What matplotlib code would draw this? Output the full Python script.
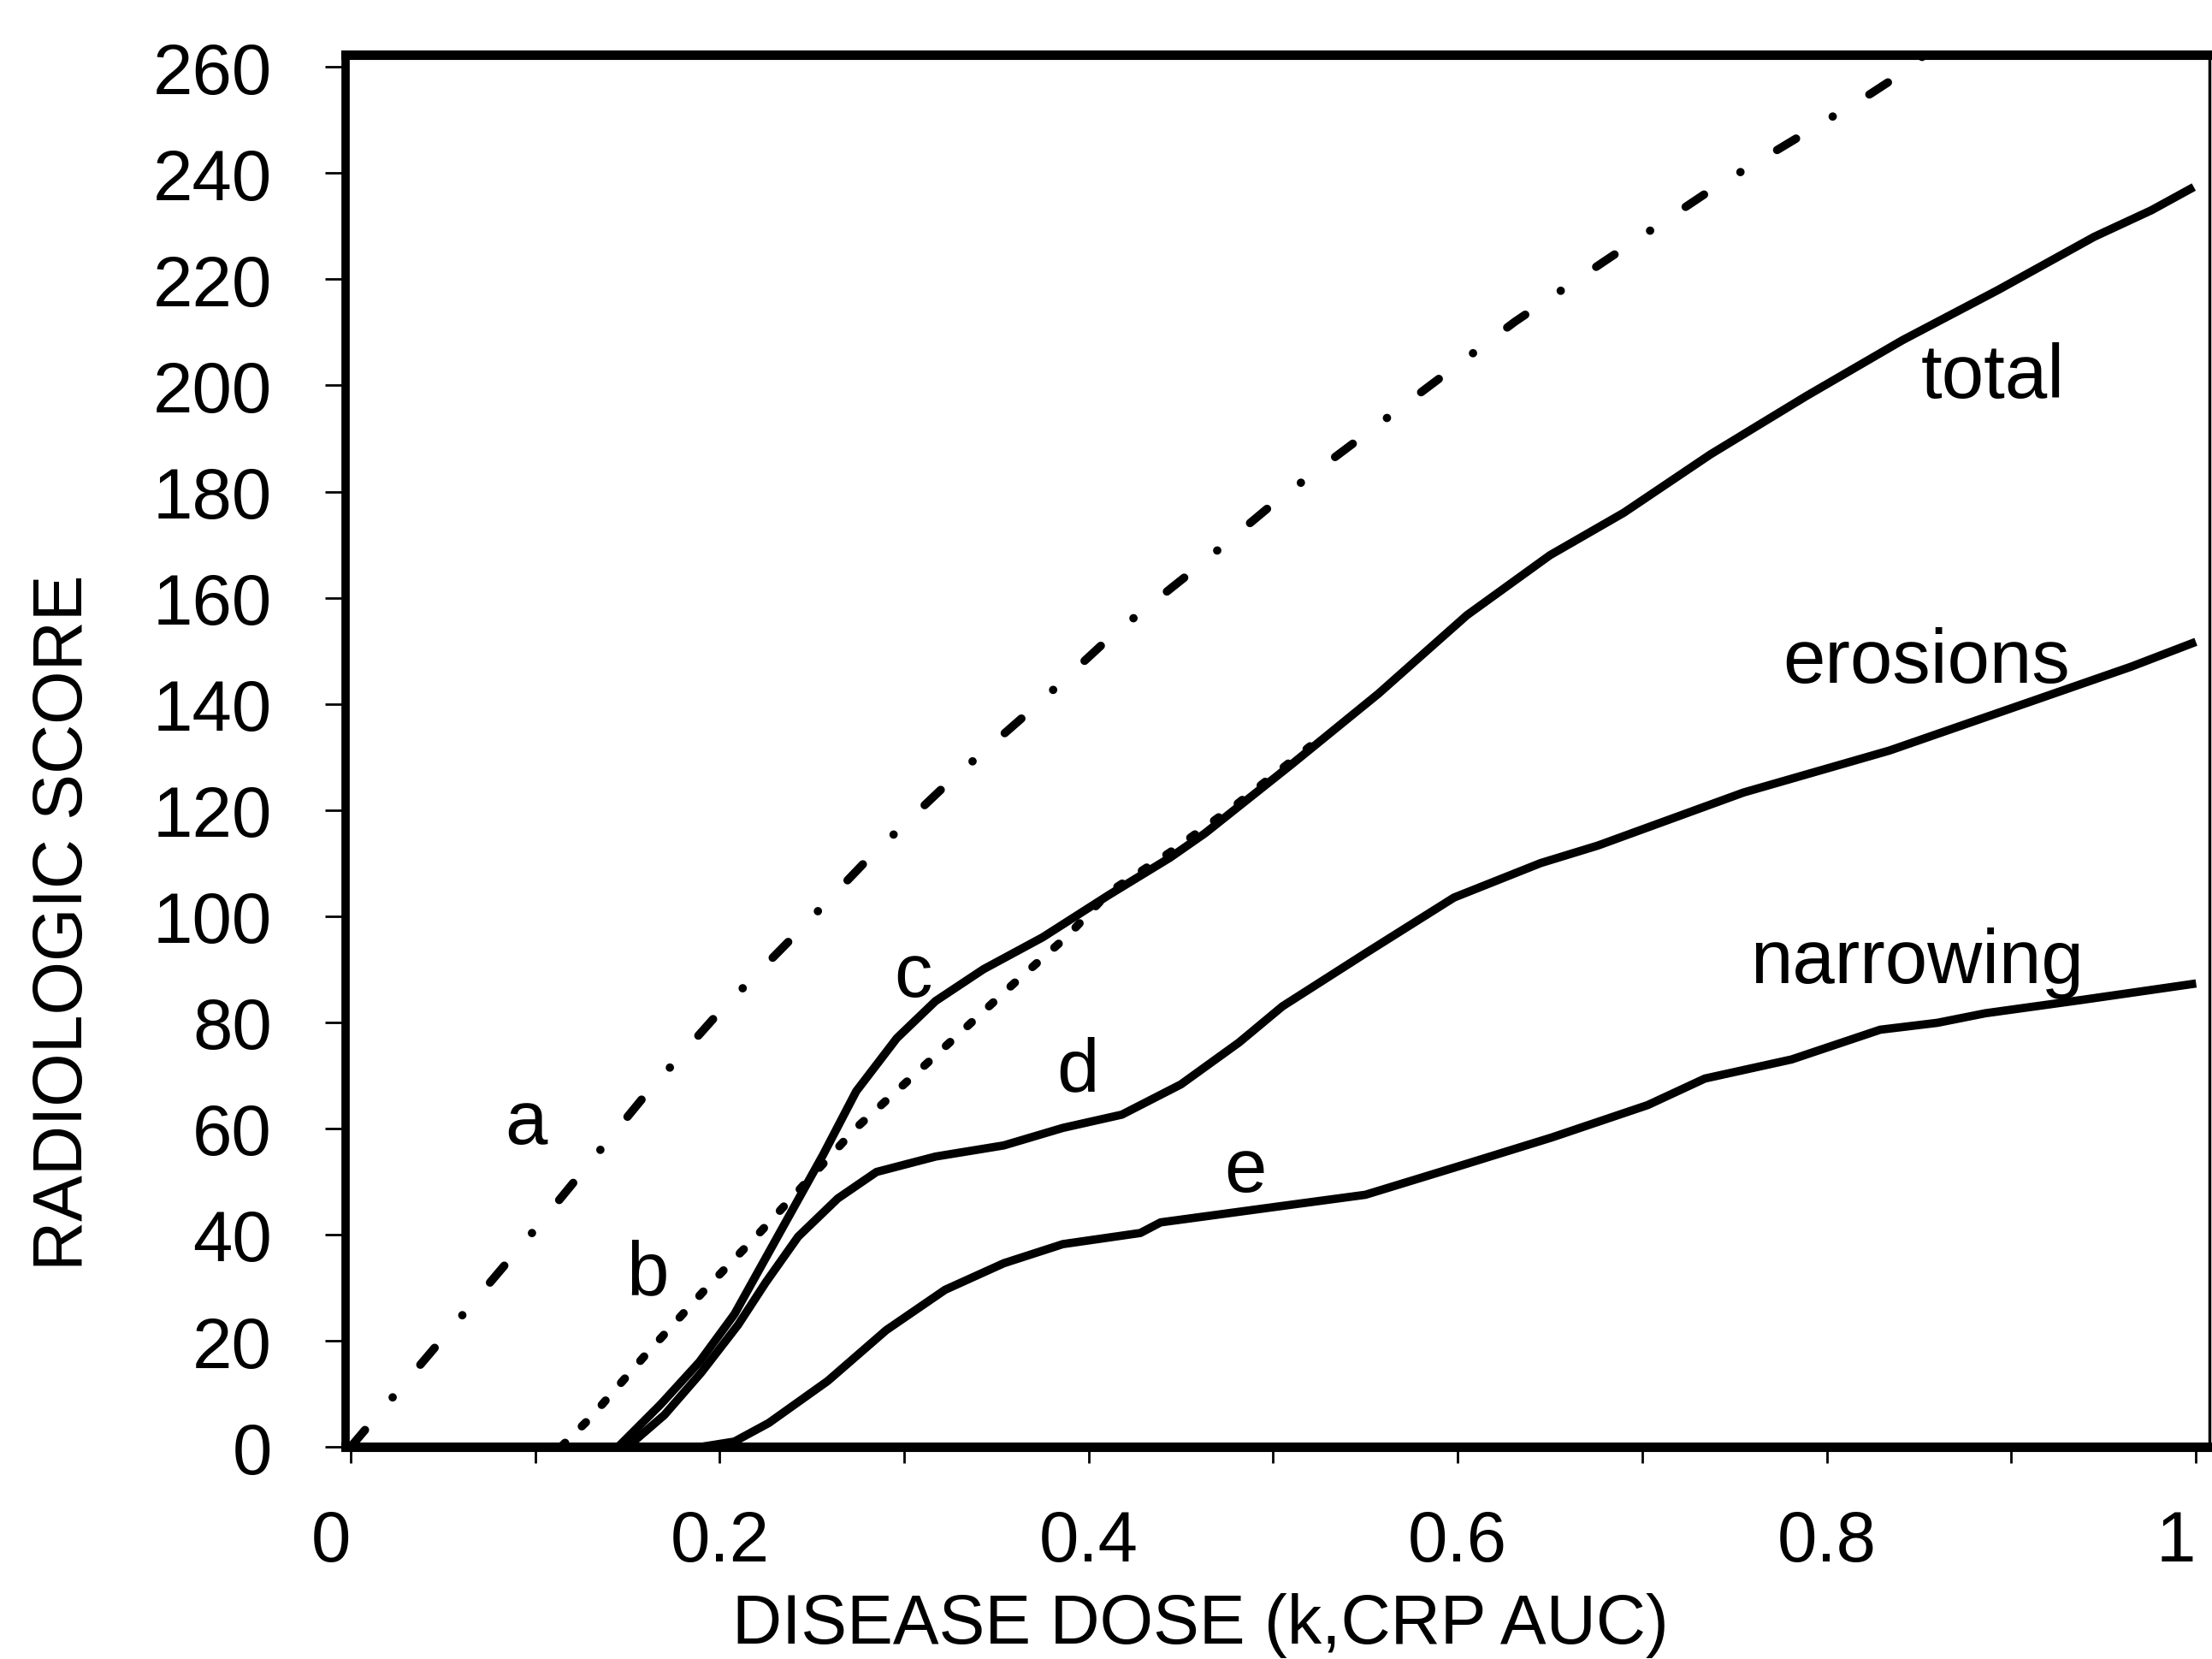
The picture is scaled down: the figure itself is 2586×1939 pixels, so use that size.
import matplotlib
matplotlib.use("Agg")
import matplotlib.pyplot as plt

plt.rcParams['font.family'] = ['Liberation Sans', 'DejaVu Sans']

# curve a: dash-dot reference line
a_x = [0.0, 0.05, 0.10, 0.159, 0.200, 0.241, 0.281, 0.325, 0.371, 0.413, 0.458,
       0.501, 0.545, 0.587, 0.631, 0.680, 0.738, 0.781, 0.824, 0.846, 0.852]
a_y = [0, 20.5, 41, 66, 82, 96.5, 111, 125.5, 139.5, 153, 165.5,
       178, 189.5, 200.5, 212, 223.5, 237, 246, 255, 260, 262]

# curve b: dotted
b_x = [0.114, 0.130, 0.160, 0.192, 0.2226, 0.274, 0.3156, 0.3594, 0.3886, 0.411, 0.444, 0.48, 0.52]
b_y = [0, 5.5, 17.4, 29.6, 40.7, 60.1, 73.3, 87.3, 96.3, 104.5, 112, 121, 132]

# total (curve c)
total_x = [0.145, 0.168, 0.189, 0.208, 0.224, 0.240, 0.256, 0.274, 0.296, 0.317, 0.343,
           0.375, 0.411, 0.444, 0.463, 0.510, 0.557, 0.605, 0.650, 0.690, 0.737, 0.789,
           0.841, 0.893, 0.945, 0.976, 0.997]
total_y = [0, 8, 16, 25, 35, 45, 55, 67, 77, 84, 90,
           96, 104, 111, 115.6, 128.6, 141.9, 156.7, 168, 176, 187, 198,
           208.5, 218, 228, 233, 237]

# erosions (curve d)
eros_x = [0.150, 0.170, 0.190, 0.210, 0.225, 0.2425, 0.264, 0.285, 0.317, 0.354, 0.386,
          0.418, 0.450, 0.4815, 0.505, 0.550, 0.598, 0.645, 0.676, 0.755, 0.834, 0.912,
          0.965, 0.998]
eros_y = [0, 6, 14, 23, 31, 39.6, 46.8, 51.8, 54.7, 56.8, 60.1,
          62.6, 68.3, 76.2, 83, 93, 103.5, 110, 113.3, 123.3, 131.2, 140.6,
          147, 151.4]

# narrowing (curve e)
narr_x = [0.190, 0.208, 0.2266, 0.2585, 0.2903, 0.3222, 0.354, 0.386, 0.428, 0.439, 0.505,
          0.550, 0.598, 0.651, 0.703, 0.734, 0.781, 0.829, 0.860, 0.886, 0.938, 0.998]
narr_y = [0, 1, 4.5, 12.4, 22, 29.6, 34.6, 38.2, 40.3, 42.3, 45.4,
          47.5, 52.6, 58.3, 64.4, 69.4, 73, 78.6, 79.9, 81.7, 84.2, 87.2]

x_ticks = [0, 0.1, 0.2, 0.3, 0.4, 0.5, 0.6, 0.7, 0.8, 0.9, 1.0]
x_tick_labels = ['0', '', '0.2', '', '0.4', '', '0.6', '', '0.8', '', '1']
y_ticks = [0, 20, 40, 60, 80, 100, 120, 140, 160, 180, 200, 220, 240, 260]

# curve annotations: text, x, y
curve_labels = ['a', 'b', 'c', 'd', 'e', 'total', 'erosions', 'narrowing']
label_x = [0.095, 0.161, 0.305, 0.394, 0.485, 0.890, 0.854, 0.849]
label_y = [61, 32.6, 88.6, 70.8, 52, 201.5, 147.8, 91.3]

fig = plt.figure(figsize=(25.86, 19.40), dpi=100)
ax = fig.add_axes([0.1562, 0.1278, 0.8426, 0.8387])

lw = 7
ax.plot(a_x, a_y, color='black', lw=lw, dashes=(2.66, 5.14, 0.01, 5.14),
        dash_capstyle='round')
ax.plot(b_x, b_y, color='black', lw=lw, dashes=(0.69, 2.83), dash_capstyle='round')
ax.plot(total_x, total_y, color='black', lw=lw)
ax.plot(eros_x, eros_y, color='black', lw=lw)
ax.plot(narr_x, narr_y, color='black', lw=lw)

for txt, tx, ty in zip(curve_labels, label_x, label_y):
    ax.text(tx, ty, txt, fontsize=64, ha='center', va='center')

ax.set_xlim(-0.0028, 1.0074)
ax.set_ylim(0, 262.3)

ax.set_xticks(x_ticks)
ax.set_xticklabels(x_tick_labels)
ax.set_yticks(y_ticks)
ax.tick_params(axis='x', direction='out', length=14, width=2, pad=38, labelsize=60)
ax.tick_params(axis='y', direction='out', length=17, width=2, pad=45, labelsize=60)

# end labels sit a little left of their ticks in the original
xlabels = ax.get_xticklabels()
xlabels[0].set_ha('right')
xlabels[-1].set_ha('right')

ax.spines['left'].set_linewidth(7)
ax.spines['bottom'].set_linewidth(8)
ax.spines['top'].set_linewidth(8)
ax.spines['right'].set_linewidth(2.5)

ax.set_xlabel('DISEASE DOSE (k,CRP AUC)', fontsize=58, va='center')
ax.xaxis.set_label_coords(0.4585, -0.1278)
ax.set_ylabel('RADIOLOGIC SCORE', fontsize=58, va='center')
ax.yaxis.set_label_coords(-0.151, 0.3774)

fig.savefig('out.png', dpi=100)
plt.close(fig)
